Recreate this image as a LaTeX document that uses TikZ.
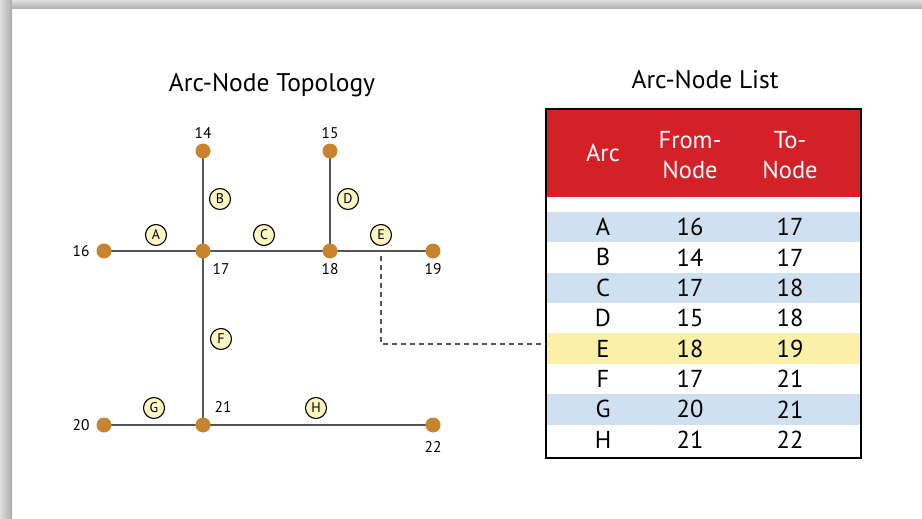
\documentclass[tikz,border=0pt]{standalone}
\usepackage{fontspec}
\setmainfont{PT Sans}
\usetikzlibrary{calc}
\definecolor{nodebrown}{HTML}{C8832F}
\definecolor{arcyellow}{HTML}{FDF6C0}
\definecolor{headred}{HTML}{D42027}
\definecolor{bandblue}{HTML}{CFE0F1}
\definecolor{bandyellow}{HTML}{FBF0A8}
\definecolor{edgegray}{HTML}{555555}
\pgfdeclarelayer{background}
\pgfsetlayers{background,main}
\begin{document}
\begin{tikzpicture}[x=1pt,y=-1pt,
  dot/.style={circle, fill=nodebrown, minimum size=15pt, inner sep=0pt},
  lbl/.style={inner sep=0pt, font=\fontsize{15.5}{15.5}\selectfont},
  arclbl/.style={circle, draw=black, line width=1.1pt, fill=arcyellow, minimum size=21pt, inner sep=0pt, font=\fontsize{14}{14}\selectfont},
  edge/.style={draw=edgegray, line width=1.3pt},
  title/.style={inner sep=0pt, font=\fontsize{25.5}{25.5}\selectfont},
  cell/.style={inner sep=0pt, font=\fontsize{24.5}{24.5}\selectfont},
  hcell/.style={inner sep=0pt, text=white, align=center, font=\fontsize{24.5}{30}\selectfont},
  rowbox/.style={draw=none, inner sep=0pt, minimum width=315pt, minimum height=30.4pt}
]
\useasboundingbox (0,0) rectangle (922,519);
% frame
\shade[top color=gray!25, bottom color=gray!65] (0,0) rectangle (922,9);
\shade[left color=gray!25, right color=gray!65] (0,0) rectangle (12,519);

% titles
\node[title] (t1) at (272,85) {Arc-Node Topology};
\node[title] (t2) at (705,80) {Arc-Node List};

% graph nodes
\node[dot] (n14) at (203,151) {};
\node[dot] (n15) at (330,151) {};
\node[dot] (n16) at (104,251) {};
\node[dot] (n17) at (203,251) {};
\node[dot] (n18) at (330,251) {};
\node[dot] (n19) at (433,251) {};
\node[dot] (n20) at (104,425) {};
\node[dot] (n21) at (203,425) {};
\node[dot] (n22) at (433,425) {};

\begin{pgfonlayer}{background}
\draw[edge] (n16.center) -- (n17.center);
\draw[edge] (n14.center) -- (n17.center);
\draw[edge] (n17.center) -- (n18.center);
\draw[edge] (n15.center) -- (n18.center);
\draw[edge] (n18.center) -- (n19.center);
\draw[edge] (n17.center) -- (n21.center);
\draw[edge] (n20.center) -- (n21.center);
\draw[edge] (n21.center) -- (n22.center);
\end{pgfonlayer}

% node labels
\node[lbl] (l14) at (203,133) {14};
\node[lbl] (l15) at (330,133) {15};
\node[lbl] (l16) at (81,251) {16};
\node[lbl] (l17) at (221,269) {17};
\node[lbl] (l18) at (330,269) {18};
\node[lbl] (l19) at (433,269) {19};
\node[lbl] (l20) at (81,425) {20};
\node[lbl] (l21) at (223,407) {21};
\node[lbl] (l22) at (433,447) {22};

% arc labels
\node[arclbl] (aA) at (156,235) {A};
\node[arclbl] (aB) at (220,199) {B};
\node[arclbl] (aC) at (264,235) {C};
\node[arclbl] (aD) at (348,199) {D};
\node[arclbl] (aE) at (381,235) {E};
\node[arclbl] (aF) at (221,339) {F};
\node[arclbl] (aG) at (154,408) {G};
\node[arclbl] (aH) at (316,408) {H};

% table
\fill[headred] (546,109) rectangle (861,197);
\node[rowbox, fill=bandblue] (rA) at (703.5,227) {};
\node[rowbox] (rB) at (703.5,257.4) {};
\node[rowbox, fill=bandblue] (rC) at (703.5,287.8) {};
\node[rowbox] (rD) at (703.5,318.2) {};
\node[rowbox, fill=bandyellow] (rE) at (703.5,348.6) {};
\node[rowbox] (rF) at (703.5,379) {};
\node[rowbox, fill=bandblue] (rG) at (703.5,409.4) {};
\node[rowbox] (rH) at (703.5,439.8) {};
\draw[black, line width=2pt] (546,109) rectangle (861,458);

\node[hcell] (hArc) at (603,153) {Arc};
\node[hcell] (hFrom) at (690,155) {From-\\Node};
\node[hcell] (hTo) at (790,155) {To-\\Node};

\foreach \r/\a/\f/\t/\y in {A/A/16/17/227, B/B/14/17/257.4, C/C/17/18/287.8, D/D/15/18/318.2, E/E/18/19/348.6, F/F/17/21/379, G/G/20/21/409.4, H/H/21/22/439.8}{
  \node[cell] (c\r1) at (603,\y) {\a};
  \node[cell] (c\r2) at (690,\y) {\f};
  \node[cell] (c\r3) at (790,\y) {\t};
}

% dashed connector
\coordinate (eTop) at (381,256);
\coordinate (eCorner) at (381,344);
\draw[edgegray, line width=1.5pt, dash pattern=on 5pt off 4pt] (eTop) -- (eCorner) -- (eCorner -| rE.west);
\end{tikzpicture}
\end{document}
